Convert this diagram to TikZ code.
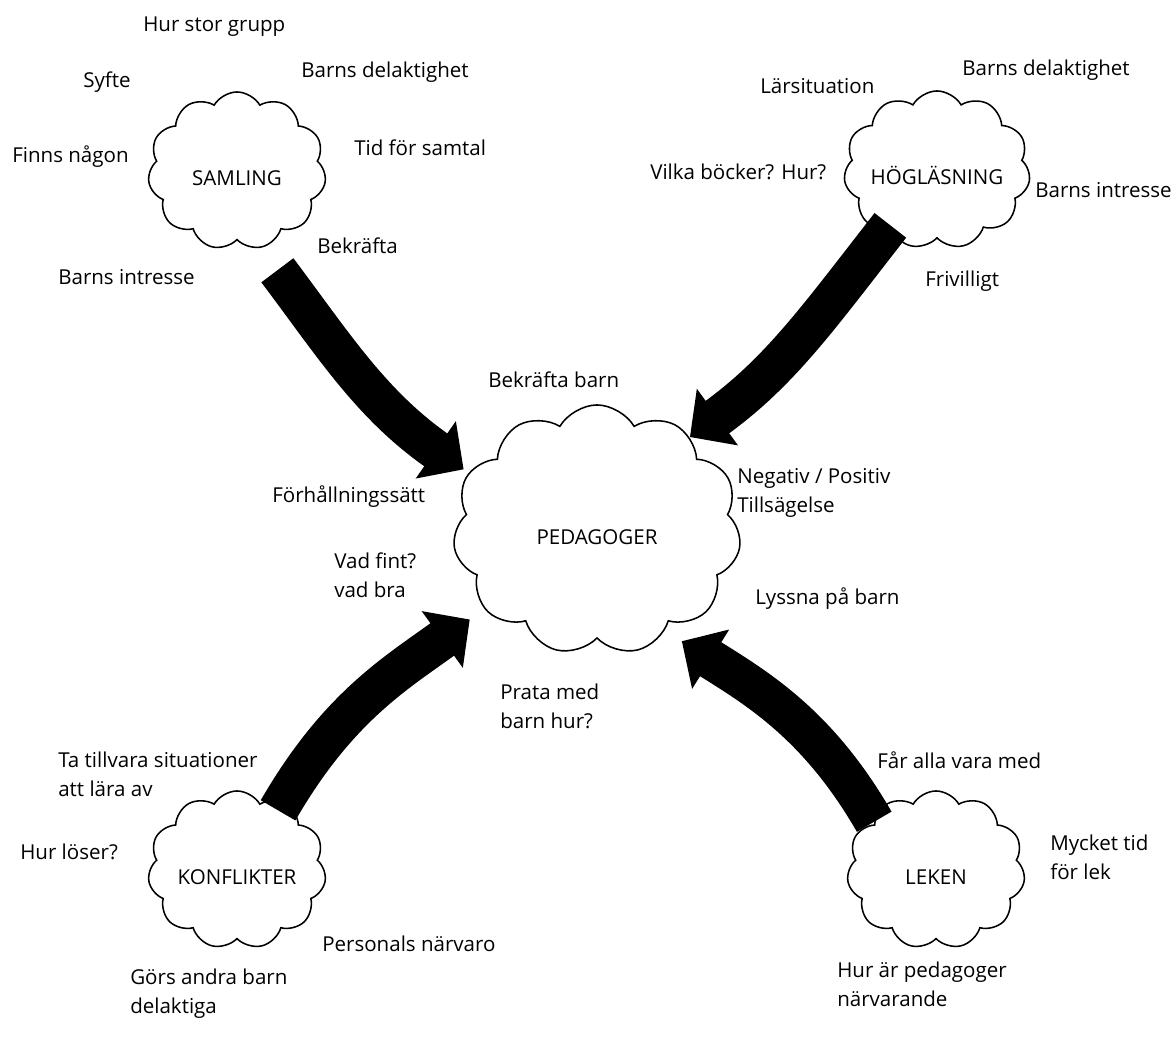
\documentclass[tikz,border=0pt]{standalone}
\usepackage{fontspec}
\setmainfont{Open Sans}
\usetikzlibrary{arrows.meta,shapes.symbols}
\newcommand{\diagfont}{\fontsize{14.6}{20.5}\selectfont}

\begin{document}
\begin{tikzpicture}[x=0.025cm, y=0.025cm,
    topic/.style={draw, cloud, cloud puffs=11, cloud puff arc=120, cloud ignores aspect, line width=1.1pt, minimum width=4.45cm, minimum height=3.95cm, inner sep=0pt, text height=20pt, text depth=0pt, font=\diagfont},
    hub/.style={topic, minimum width=7.2cm, minimum height=6.25cm},
    note/.style={anchor=west, align=left, inner sep=0pt, font=\diagfont},
    bigarr/.style={line width=28.5pt, -{Triangle[length=0.85cm, width=1.7cm]}}
  ]
  \useasboundingbox (0,0) rectangle (1176,1037);

  % clouds
  \node[hub] (ped) at (597,507) {PEDAGOGER};
  \node[topic] (samling) at (237,866) {SAMLING};
  \node[topic] (hog) at (937,867) {HÖGLÄSNING};
  \node[topic] (konf) at (237,167) {KONFLIKTER};
  \node[topic] (leken) at (936,167) {LEKEN};

  % arrows into the middle
  \draw[bigarr, shorten <=0.7cm, shorten >=0.15cm] (samling.-73) to[out=-53, in=145] (ped.156);
  \draw[bigarr, shorten <=-0.1cm] (hog.230) to[out=232, in=36] (ped.45);
  \draw[bigarr, shorten <=-0.25cm, shorten >=0.45cm] (konf.56) to[out=60, in=216] (ped.215);
  \draw[bigarr, shorten >=0.5cm] (leken.142) to[out=120, in=-32] (ped.-56);

  % samling
  \node[note] (grupp) at (143,1010) {Hur stor grupp};
  \node[note] (syfte) at (83,955) {Syfte};
  \node[note] (deltagL) at (301,965) {Barns delaktighet};
  \node[note] (finns) at (12,880) {Finns någon};
  \node[note] (tid) at (354,889) {Tid för samtal};
  \node[note] (bekr) at (317,791) {Bekräfta};
  \node[note] (intrL) at (58,760) {Barns intresse};

  % högläsning
  \node[note] (lar) at (760,951) {Lärsituation};
  \node[note] (deltagR) at (962,967) {Barns delaktighet};
  \node[note] (bocker) at (650,865) {Vilka böcker? Hur?};
  \node[note] (intrR) at (1035,847) {Barns intresse};
  \node[note] (friv) at (925,756) {Frivilligt};

  % pedagoger
  \node[note] (bekrbarn) at (488,657) {Bekräfta barn};
  \node[note] (tillsag) at (737,544) {Negativ / Positiv\\Tillsägelse};
  \node[note] (forh) at (272,540) {Förhållningssätt};
  \node[note] (fint) at (334,462) {Vad fint?\\vad bra};
  \node[note] (lyssna) at (755,438) {Lyssna på barn};
  \node[note] (prata) at (500,331) {Prata med\\barn hur?};

  % konflikter
  \node[note] (tillvara) at (58,263) {Ta tillvara situationer\\att lära av};
  \node[note] (loser) at (20,185) {Hur löser?};
  \node[note] (narvaro) at (322,93) {Personals närvaro};
  \node[note] (gors) at (130,43) {Görs andra barn\\delaktiga};

  % leken
  \node[note] (alla) at (877,277) {Får alla vara med};
  \node[note] (lektid) at (1050,180) {Mycket tid\\för lek};
  \node[note] (narvarande) at (837,53) {Hur är pedagoger\\närvarande};
\end{tikzpicture}
\end{document}
